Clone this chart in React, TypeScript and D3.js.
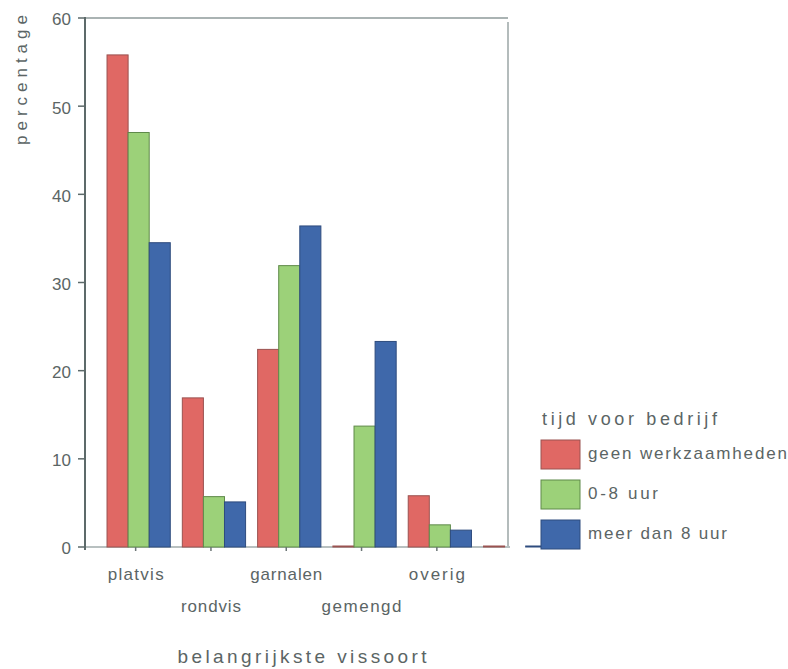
import React from "react";
import * as d3 from "d3";

const categories = ["platvis", "rondvis", "garnalen", "gemengd", "overig", ""];
const seriesNames = ["geen werkzaamheden", "0-8 uur", "meer dan 8 uur"];
const geenWerkzaamheden = [55.7, 16.8, 22.3, 0, 5.7, 0];
const nulTotAchtUur = [46.9, 5.6, 31.8, 13.6, 2.4, NaN];
const meerDanAchtUur = [34.4, 5.0, 36.3, 23.2, 1.8, 0];
const yTicks = [0, 10, 20, 30, 40, 50, 60];

const seriesValues = [geenWerkzaamheden, nulTotAchtUur, meerDanAchtUur];
const fills = ["#e06864", "#9cd179", "#3f68aa"];
const strokes = ["#9a5250", "#5f8a4a", "#2f4c7e"];

const W = 788;
const H = 669;
const FONT = "'Liberation Sans', Arial, sans-serif";
const TEXT = "#5b6565";

export default function App() {
  const x = d3
    .scaleBand<string>()
    .domain(categories.map((c, i) => String(i)))
    .range([101, 552.8])
    .paddingInner(0.16)
    .paddingOuter(0.08);
  const xs = d3
    .scaleBand<string>()
    .domain(seriesNames)
    .range([0, x.bandwidth()])
    .padding(0);
  const y = d3.scaleLinear().domain([0, 60]).range([547, 18]);

  const axisX = 85;
  const frameRight = 508;
  const labelWidths = [56, 60, 72, 80, 56, 0];

  return (
    <svg
      width={W}
      height={H}
      style={{ position: "absolute", left: 0, top: 0, background: "#fff" }}
      fontFamily={FONT}
    >
      {/* frame */}
      <line x1={axisX} x2={frameRight} y1={y(60)} y2={y(60)} stroke="#aab3b3" strokeWidth={2} />
      <line x1={frameRight} x2={frameRight} y1={y(60) + 4} y2={y(0)} stroke="#b4bcbc" strokeWidth={2} />
      <line x1={axisX} x2={frameRight + 2} y1={y(0)} y2={y(0)} stroke="#b8c0c0" strokeWidth={2} />

      {/* bars */}
      {categories.map((c, i) =>
        seriesValues.map((vals, s) => {
          const v = vals[i];
          if (Number.isNaN(v)) return null;
          const bx = (x(String(i)) as number) + (xs(seriesNames[s]) as number);
          const by = y(v);
          return (
            <rect
              key={`${i}-${s}`}
              x={bx}
              y={by - 1}
              width={xs.bandwidth()}
              height={Math.max(y(0) - by, 0) + 1}
              fill={fills[s]}
              stroke={strokes[s]}
              strokeWidth={1}
            />
          );
        })
      )}

      {/* y axis */}
      <line x1={axisX} x2={axisX} y1={y(60) - 1} y2={y(0) + 3} stroke="#5d6a6a" strokeWidth={2} />
      {yTicks.map((t) => (
        <g key={t}>
          <line x1={axisX - 7} x2={axisX} y1={y(t)} y2={y(t)} stroke="#5d6a6a" strokeWidth={1.5} />
          <text
            x={71}
            y={y(t) + 3}
            textAnchor="end"
            dominantBaseline="middle"
            fontSize={17}
            fill={TEXT}
          >
            {t}
          </text>
        </g>
      ))}

      {/* x ticks and labels */}
      {categories.map((c, i) => {
        const cx = (x(String(i)) as number) + x.bandwidth() / 2;
        if (!c) return null;
        const row = i % 2;
        return (
          <g key={c}>
            <line x1={cx - 3} x2={cx - 3} y1={y(0)} y2={y(0) + 4} stroke="#6b7575" strokeWidth={1.5} />
            <text
              x={cx - 3}
              y={row === 0 ? 580 : 612}
              textAnchor="middle"
              fontSize={17}
              fill={TEXT}
              textLength={labelWidths[i]}
              lengthAdjust="spacing"
            >
              {c}
            </text>
          </g>
        );
      })}

      {/* axis titles */}
      <text
        x={302}
        y={663}
        textAnchor="middle"
        fontSize={19}
        fill={TEXT}
        textLength={249}
        lengthAdjust="spacing"
      >
        belangrijkste vissoort
      </text>
      <text
        transform="translate(27,80) rotate(-90)"
        textAnchor="middle"
        fontSize={17}
        fill={TEXT}
        textLength={130}
        lengthAdjust="spacing"
      >
        percentage
      </text>

      {/* legend */}
      <text x={542} y={425} fontSize={18} fill={TEXT} textLength={175} lengthAdjust="spacing">
        tijd voor bedrijf
      </text>
      {seriesNames.map((n, s) => {
        const top = 440 + s * 40;
        const widths = [199, 70, 139];
        return (
          <g key={n}>
            <rect x={541} y={top} width={39} height={29} fill={fills[s]} stroke={strokes[s]} strokeWidth={1} />
            <text
              x={588}
              y={top + 15}
              dominantBaseline="middle"
              fontSize={17}
              fill={TEXT}
              textLength={widths[s]}
              lengthAdjust="spacing"
            >
              {n}
            </text>
          </g>
        );
      })}
    </svg>
  );
}
